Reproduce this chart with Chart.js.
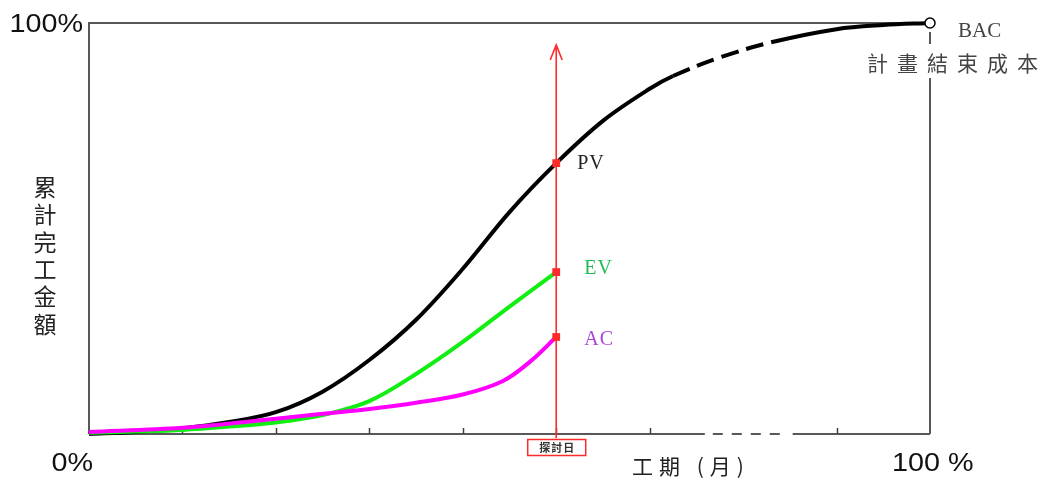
<!DOCTYPE html>
<html>
<head>
<meta charset="utf-8">
<title>累計完工金額 S 曲線</title>
<script src="https://cdn.jsdelivr.net/npm/chart.js@4"></script>
<style>
  html, body { margin: 0; background: #fff; }
  canvas { display: block; }
</style>
</head>
<body>
<canvas id="evChart" width="1057" height="479"></canvas>
<script>
// 工期 in months (0..9) against cumulative amount in %
const pvMonths = [0, 0.5, 1, 1.5, 2, 2.5, 3, 3.5, 4, 4.5, 5, 5.5, 6, 6.25, 6.75, 7.3, 8, 8.5, 9];
const pvValues = [0, 0.5, 1.4, 2.9, 5.3, 10.3, 18.0, 27.8, 40.2, 54.0, 65.9, 76.2, 84.0, 87.1, 91.6, 95.3, 98.5, 99.5, 100];

const evMonths = [0, 0.5, 1, 1.5, 2, 2.5, 3, 3.5, 4, 4.5, 5];
const evValues = [0.3, 0.6, 1.0, 1.8, 2.8, 4.6, 8.0, 14.6, 22.4, 31.0, 39.4];

const acMonths = [0, 1, 2, 2.5, 3, 3.5, 4, 4.43, 4.72, 5];
const acValues = [0.5, 1.5, 3.7, 4.9, 6.1, 7.6, 9.6, 12.9, 17.6, 23.6];

const statusMonth = 5;              // 探討日
const tickMonths = [1, 2, 3, 4, 5, 6, 8];
const pvDashed = [6.25, 7.3];       // uncertain stretch of the plan curve
const axisBreak = [6.59, 7.53];     // dashed stretch of the time axis

const toPoints = (xs, ys) => xs.map((m, i) => ({ x: m, y: ys[i] }));
const valueAt = (xs, ys, m) => ys[xs.indexOf(m)];

const statusMarks = [
  { x: statusMonth, y: valueAt(pvMonths, pvValues, statusMonth) },
  { x: statusMonth, y: valueAt(evMonths, evValues, statusMonth) },
  { x: statusMonth, y: valueAt(acMonths, acValues, statusMonth) }
];

const RED = '#ff2a2a';

// the percent labels use a slightly stretched sans face
function wideText(ctx, text, x, y, align) {
  ctx.save();
  ctx.translate(x, y);
  ctx.scale(1.15, 1);
  ctx.textAlign = align;
  ctx.fillText(text, 0, 0);
  ctx.restore();
}

const framePlugin = {
  id: 'frame',
  beforeDatasetsDraw(chart) {
    const { ctx, chartArea: a, scales: { x } } = chart;
    ctx.save();
    ctx.strokeStyle = '#585858';
    ctx.lineWidth = 2;

    // left and top edges
    ctx.beginPath();
    ctx.moveTo(a.left, a.bottom);
    ctx.lineTo(a.left, a.top);
    ctx.lineTo(a.right, a.top);
    ctx.stroke();

    // right edge, broken around the BAC caption
    ctx.beginPath();
    ctx.moveTo(a.right, a.top + 9);
    ctx.lineTo(a.right, a.top + 21);
    ctx.moveTo(a.right, a.top + 55);
    ctx.lineTo(a.right, a.bottom);
    ctx.stroke();

    // time axis with a dashed stretch
    const b0 = x.getPixelForValue(axisBreak[0]);
    const b1 = x.getPixelForValue(axisBreak[1]);
    ctx.beginPath();
    ctx.moveTo(a.left, a.bottom);
    ctx.lineTo(b0, a.bottom);
    ctx.moveTo(b1, a.bottom);
    ctx.lineTo(a.right, a.bottom);
    ctx.stroke();
    ctx.setLineDash([10, 9]);
    ctx.beginPath();
    ctx.moveTo(b0 + 8, a.bottom);
    ctx.lineTo(b1 - 8, a.bottom);
    ctx.stroke();
    ctx.setLineDash([]);

    // small inward ticks
    ctx.lineWidth = 1.5;
    ctx.strokeStyle = '#404040';
    ctx.beginPath();
    tickMonths.forEach(m => {
      const px = Math.round(x.getPixelForValue(m)) + 0.5;
      ctx.moveTo(px, a.bottom);
      ctx.lineTo(px, a.bottom - 6);
    });
    ctx.stroke();

    // status date arrow
    const sx = x.getPixelForValue(statusMonth);
    ctx.strokeStyle = RED;
    ctx.lineWidth = 1.6;
    ctx.beginPath();
    ctx.moveTo(sx, a.bottom + 4);
    ctx.lineTo(sx, a.top + 22);
    ctx.moveTo(sx - 6, a.top + 37);
    ctx.lineTo(sx, a.top + 22);
    ctx.lineTo(sx + 6, a.top + 37);
    ctx.stroke();
    ctx.restore();
  },
  afterDraw(chart) {
    const { ctx, chartArea: a, scales: { x, y } } = chart;
    const sx = x.getPixelForValue(statusMonth);
    ctx.save();
    ctx.textBaseline = 'middle';

    // percentage labels
    ctx.fillStyle = '#111';
    ctx.font = '25px "Liberation Sans", Arial, sans-serif';
    wideText(ctx, '100%', a.left - 6, a.top + 2, 'right');
    wideText(ctx, '0%', a.left + 4, a.bottom + 30, 'right');
    wideText(ctx, '100 %', a.right - 38, a.bottom + 30, 'left');

    // axis titles
    ctx.fillStyle = '#222';
    ctx.font = '23px "Noto Sans CJK TC", sans-serif';
    ctx.textAlign = 'center';
    const yTitle = '累計完工金額';
    [...yTitle].forEach((ch, i) => ctx.fillText(ch, 45, 187 + i * 27.4));
    ctx.textAlign = 'left';
    ctx.font = '21px "Noto Sans CJK TC", sans-serif';
    ctx.letterSpacing = '6px';
    ctx.fillText('工期 (月)', 632, a.bottom + 32);

    // status date box
    ctx.letterSpacing = '1px';
    ctx.strokeStyle = RED;
    ctx.lineWidth = 1.5;
    ctx.strokeRect(sx - 28.5, a.bottom + 5.5, 58, 16);
    ctx.fillStyle = '#333';
    ctx.font = 'bold 11px "Noto Sans CJK TC", sans-serif';
    ctx.textAlign = 'center';
    ctx.fillText('探討日', sx + 1, a.bottom + 14);

    // BAC caption
    ctx.letterSpacing = '0px';
    ctx.fillStyle = '#444';
    ctx.font = '21px "Liberation Serif", "DejaVu Serif", serif';
    ctx.textAlign = 'left';
    ctx.fillText('BAC', a.right + 28, a.top + 8);
    ctx.font = '21px "Noto Sans CJK TC", sans-serif';
    ctx.letterSpacing = '9px';
    ctx.fillText('計畫結束成本', a.right - 63, a.top + 40);

    // series names beside the status marks
    ctx.letterSpacing = '1px';
    ctx.font = '20px "Liberation Serif", "DejaVu Serif", serif';
    ctx.fillStyle = '#222';
    ctx.fillText('PV', sx + 21, y.getPixelForValue(statusMarks[0].y) + 1);
    ctx.fillStyle = '#22bb55';
    ctx.fillText('EV', sx + 28, y.getPixelForValue(statusMarks[1].y) - 3);
    ctx.fillStyle = '#a845d8';
    ctx.fillText('AC', sx + 28, y.getPixelForValue(statusMarks[2].y) + 3);
    ctx.restore();
  }
};

new Chart(document.getElementById('evChart'), {
  type: 'line',
  data: {
    datasets: [
      {
        label: '探討日',
        type: 'scatter',
        data: statusMarks,
        pointStyle: 'rect',
        pointRadius: 5.5,
        pointBackgroundColor: RED,
        pointBorderColor: RED,
        pointBorderWidth: 0,
        clip: false,
        order: 0
      },
      {
        label: 'AC',
        data: toPoints(acMonths, acValues),
        borderColor: '#ff00ff',
        borderWidth: 4,
        pointRadius: 0,
        tension: 0.35,
        clip: false,
        order: 1
      },
      {
        label: 'EV',
        data: toPoints(evMonths, evValues),
        borderColor: '#11ee11',
        borderWidth: 4,
        pointRadius: 0,
        tension: 0.35,
        clip: false,
        order: 2
      },
      {
        label: 'PV',
        data: toPoints(pvMonths, pvValues),
        borderColor: '#000',
        borderWidth: 4,
        tension: 0.35,
        pointRadius: ctx => ctx.dataIndex === pvValues.length - 1 ? 5 : 0,
        pointBackgroundColor: '#fff',
        pointBorderColor: '#000',
        pointBorderWidth: 1.5,
        segment: {
          borderDash: ctx => (ctx.p0.parsed.x >= pvDashed[0] - 1e-6 && ctx.p1.parsed.x <= pvDashed[1] + 1e-6) ? [18, 8] : undefined
        },
        clip: false,
        order: 3
      }
    ]
  },
  options: {
    responsive: false,
    animation: false,
    layout: { padding: { left: 89, top: 23, right: 127, bottom: 45 } },
    plugins: { legend: { display: false }, tooltip: { enabled: false } },
    scales: {
      x: { type: 'linear', min: 0, max: 9, display: false },
      y: { min: 0, max: 100, display: false }
    }
  },
  plugins: [framePlugin]
});
</script>
</body>
</html>
